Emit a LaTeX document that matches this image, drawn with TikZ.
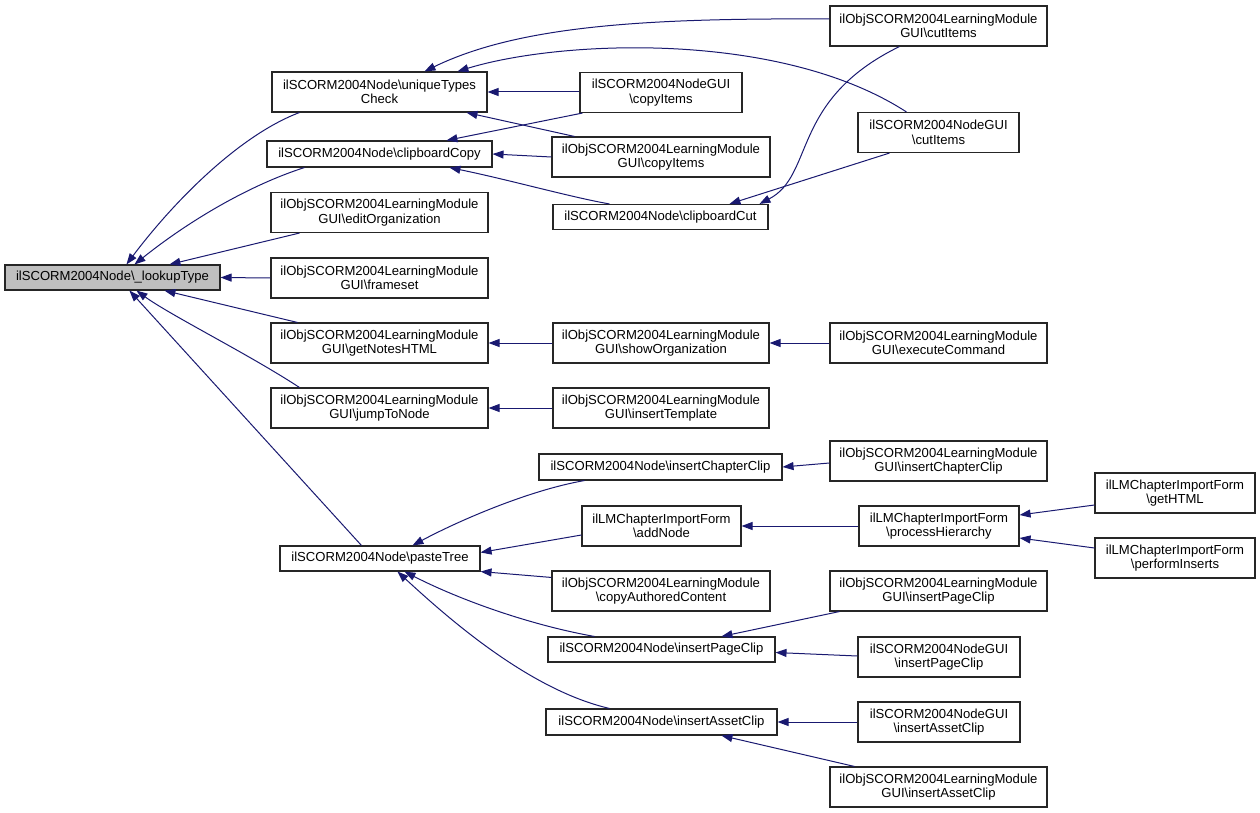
\documentclass[tikz,border=0pt]{standalone}
\usepackage{fontspec}
\setmainfont{Liberation Sans}
\usetikzlibrary{arrows.meta,calc}
\definecolor{edgeblue}{HTML}{191970}
\definecolor{nodegray}{HTML}{BFBFBF}
\newcommand{\bs}{\textbackslash{}}
\begin{document}
\begin{tikzpicture}[x=1pt,y=-1pt,
  box/.style={draw=black!85, line width=1.1pt, fill=white, inner sep=0pt, align=center,
    font=\fontsize{13.1}{14.5}\selectfont},
  arr/.style={{Triangle[length=11pt,width=8pt]}-, draw=edgeblue, color=edgeblue, line width=1pt}]
\useasboundingbox (0,0) rectangle (1260,813);
% column 0
\node[box, fill=nodegray, minimum width=215pt, minimum height=25pt] (lookup) at (112.5,277.5) {ilSCORM2004Node\bs\_lookupType};
% column 1
\node[box, minimum width=215pt, minimum height=40pt] (unique) at (379.5,92) {ilSCORM2004Node\bs uniqueTypes\\Check};
\node[box, minimum width=225pt, minimum height=26pt] (ccopy) at (379.5,154) {ilSCORM2004Node\bs clipboardCopy};
\node[box, minimum width=217pt, minimum height=40pt] (editorg) at (379.5,212.5) {ilObjSCORM2004LearningModule\\GUI\bs editOrganization};
\node[box, minimum width=217pt, minimum height=40pt] (frameset) at (379.5,278) {ilObjSCORM2004LearningModule\\GUI\bs frameset};
\node[box, minimum width=217pt, minimum height=40pt] (getnotes) at (379.5,343) {ilObjSCORM2004LearningModule\\GUI\bs getNotesHTML};
\node[box, minimum width=217pt, minimum height=40pt] (jump) at (379.5,408) {ilObjSCORM2004LearningModule\\GUI\bs jumpToNode};
\node[box, minimum width=200pt, minimum height=25pt] (paste) at (380,558.5) {ilSCORM2004Node\bs pasteTree};
% column 2
\node[box, minimum width=162pt, minimum height=40pt] (ngcopy) at (661,92.5) {ilSCORM2004NodeGUI\\\bs copyItems};
\node[box, minimum width=218pt, minimum height=40pt] (lmcopy) at (661,157) {ilObjSCORM2004LearningModule\\GUI\bs copyItems};
\node[box, minimum width=215pt, minimum height=25pt] (ccut) at (660.5,217) {ilSCORM2004Node\bs clipboardCut};
\node[box, minimum width=216pt, minimum height=40pt] (showorg) at (661,343) {ilObjSCORM2004LearningModule\\GUI\bs showOrganization};
\node[box, minimum width=216pt, minimum height=40pt] (instempl) at (661,408) {ilObjSCORM2004LearningModule\\GUI\bs insertTemplate};
\node[box, minimum width=243pt, minimum height=26pt] (chclip) at (660.5,467) {ilSCORM2004Node\bs insertChapterClip};
\node[box, minimum width=159pt, minimum height=40pt] (addnode) at (661.5,526) {ilLMChapterImportForm\\\bs addNode};
\node[box, minimum width=218pt, minimum height=40pt] (copyauth) at (661,591) {ilObjSCORM2004LearningModule\\\bs copyAuthoredContent};
\node[box, minimum width=227pt, minimum height=25pt] (pageclip) at (661.5,649.5) {ilSCORM2004Node\bs insertPageClip};
\node[box, minimum width=231pt, minimum height=26pt] (assetclip) at (661.5,722) {ilSCORM2004Node\bs insertAssetClip};
% column 3
\node[box, minimum width=217pt, minimum height=40pt] (lmcut) at (938.5,26) {ilObjSCORM2004LearningModule\\GUI\bs cutItems};
\node[box, minimum width=161pt, minimum height=40pt] (ngcut) at (938.5,132.5) {ilSCORM2004NodeGUI\\\bs cutItems};
\node[box, minimum width=217pt, minimum height=40pt] (exec) at (938.5,343) {ilObjSCORM2004LearningModule\\GUI\bs executeCommand};
\node[box, minimum width=217pt, minimum height=40pt] (lmchclip) at (938.5,461) {ilObjSCORM2004LearningModule\\GUI\bs insertChapterClip};
\node[box, minimum width=160pt, minimum height=40pt] (prochier) at (939,526) {ilLMChapterImportForm\\\bs processHierarchy};
\node[box, minimum width=217pt, minimum height=40pt] (lmpageclip) at (938.5,591) {ilObjSCORM2004LearningModule\\GUI\bs insertPageClip};
\node[box, minimum width=162pt, minimum height=40pt] (ngpageclip) at (939,657) {ilSCORM2004NodeGUI\\\bs insertPageClip};
\node[box, minimum width=162pt, minimum height=40pt] (ngassetclip) at (939,722) {ilSCORM2004NodeGUI\\\bs insertAssetClip};
\node[box, minimum width=217pt, minimum height=40pt] (lmassetclip) at (938.5,787) {ilObjSCORM2004LearningModule\\GUI\bs insertAssetClip};
% column 4
\node[box, minimum width=160pt, minimum height=40pt] (gethtml) at (1175,493) {ilLMChapterImportForm\\\bs getHTML};
\node[box, minimum width=160pt, minimum height=40pt] (perfins) at (1175,558) {ilLMChapterImportForm\\\bs performInserts};

% edges into lookupType
\draw[arr] ($(lookup.north west)+(122,0)$) .. controls (175,200) and (240,135) .. ($(unique.south west)+(28,0)$);
\draw[arr] ($(lookup.north west)+(130,0)$) .. controls (190,220) and (250,185) .. ($(ccopy.south west)+(38,0)$);
\draw[arr] ($(lookup.north west)+(165,0)$) -- ($(editorg.south west)+(29,0)$);
\draw[arr] (lookup.east) -- (frameset.west);
\draw[arr] ($(lookup.south west)+(160,0)$) -- ($(getnotes.north west)+(27,0)$);
\draw[arr] ($(lookup.south west)+(132,0)$) .. controls (170,315) and (250,355) .. ($(jump.north west)+(29,0)$);
\draw[arr] ($(lookup.south west)+(125,0)$) -- ($(paste.north west)+(82,0)$);
% edges into uniqueTypesCheck
\draw[arr] ($(unique.north west)+(153,0)$) .. controls (520,25) and (650,18) .. ($(lmcut.west)+(0,-7)$);
\draw[arr] ($(unique.north west)+(186,0)$) .. controls (560,40) and (780,30) .. ($(ngcut.north west)+(49,0)$);
\draw[arr] (unique.east) -- (unique.east -| ngcopy.west);
\draw[arr] ($(unique.south west)+(195,0)$) -- ($(lmcopy.north west)+(23,0)$);
% edges into clipboardCopy
\draw[arr] ($(ccopy.north west)+(180,0)$) -- ($(ngcopy.south west)+(3,0)$);
\draw[arr] (ccopy.east) -- (lmcopy.west);
\draw[arr] ($(ccopy.south west)+(183,0)$) .. controls (510,180) and (570,197) .. ($(ccut.north west)+(57,0)$);
% edges into clipboardCut
\draw[arr] ($(ccut.north west)+(207,0)$) .. controls (815,175) and (790,100) .. ($(lmcut.south west)+(70,0)$);
\draw[arr] ($(ccut.north west)+(177,0)$) -- ($(ngcut.south west)+(32,0)$);
% simple chains
\draw[arr] (getnotes.east) -- (showorg.west);
\draw[arr] (showorg.east) -- (exec.west);
\draw[arr] (jump.east) -- (instempl.west);
% edges into pasteTree
\draw[arr] ($(paste.north west)+(133,0)$) .. controls (460,520) and (530,490) .. ($(chclip.south west)+(46,0)$);
\draw[arr] ($(paste.north east)+(0,7)$) -- ($(addnode.west)+(0,9)$);
\draw[arr] (paste.south east) -- ($(copyauth.north west)+(0,7)$);
\draw[arr] ($(paste.south west)+(125,0)$) .. controls (460,600) and (530,625) .. ($(pageclip.north west)+(47,0)$);
\draw[arr] ($(paste.south west)+(118,0)$) .. controls (450,620) and (530,690) .. ($(assetclip.north west)+(64,0)$);
% right part
\draw[arr] (chclip.east) -- ($(lmchclip.west)+(0,2)$);
\draw[arr] (addnode.east) -- (prochier.west);
\draw[arr] ($(prochier.east)+(0,-11)$) -- ($(gethtml.west)+(0,12)$);
\draw[arr] ($(prochier.east)+(0,12)$) -- ($(perfins.west)+(0,-10)$);
\draw[arr] ($(pageclip.north west)+(174,0)$) -- ($(lmpageclip.south west)+(10,0)$);
\draw[arr] ($(pageclip.east)+(0,3)$) -- ($(ngpageclip.west)+(0,-1)$);
\draw[arr] (assetclip.east) -- (ngassetclip.west);
\draw[arr] ($(assetclip.south west)+(176,0)$) -- ($(lmassetclip.north west)+(25,0)$);
\end{tikzpicture}
\end{document}
